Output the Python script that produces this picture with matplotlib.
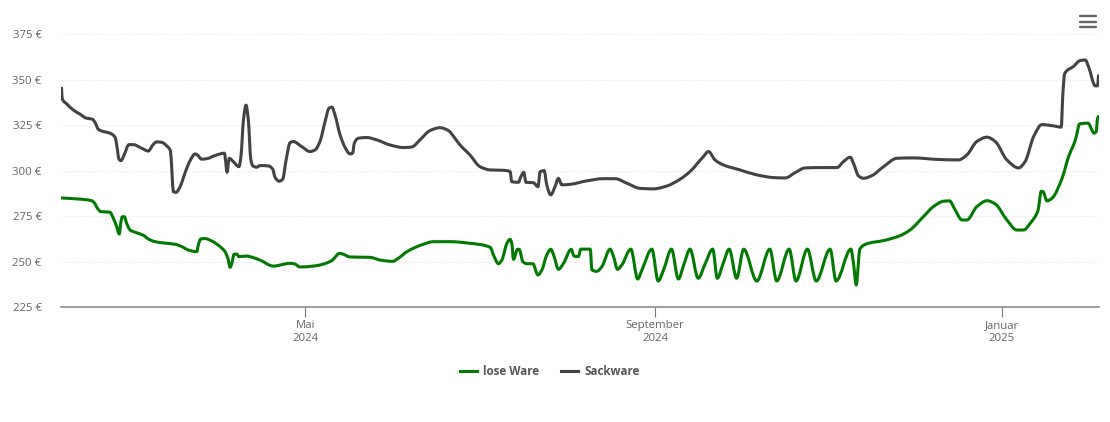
import numpy as np
import pandas as pd
import matplotlib
matplotlib.use('Agg')
import matplotlib.pyplot as plt
from matplotlib.path import Path
from matplotlib.patches import PathPatch
from matplotlib.lines import Line2D

# ==========================================
# 1. DATA (days since start, EUR)
# ==========================================
START_DATE = pd.Timestamp('2024-02-05')

sack_days = [0.2, 0.4, 2.0, 4.3, 6.7, 9.0, 11.0, 12.0, 13.1, 14.3, 17.2, 19.0, 19.6, 20.4, 21.1, 22.2,
             23.9, 25.4, 28.4, 30.7, 32.5, 33.7, 35.4, 37.2, 38.5, 39.0, 39.5, 40.5, 41.9, 43.6, 45.4,
             47.2, 48.0, 49.5, 51.3, 54.2, 57.5, 58.0, 58.4, 59.2, 60.6, 62.6, 63.3, 64.2, 65.1, 65.9,
             66.8, 67.5, 68.9, 70.0, 73.0, 74.5, 75.3, 76.8, 78.0, 79.2, 80.6, 81.7, 84.7, 87.6, 89.4,
             91.1, 92.9, 94.3, 95.3, 96.4, 98.2, 99.9, 101.7, 102.6, 103.2, 104.6, 107.6, 111.1, 115.8,
             120.5, 123.4, 126.3, 129.8, 133.4, 136.3, 138.6, 140.4, 143.9, 147.4, 151.0, 155.6, 158.0,
             158.6, 160.9, 161.8, 162.8, 163.6, 166.2, 167.8, 168.6, 170.0, 170.9, 172.3, 173.8, 175.0,
             176.2, 179.1, 185.0, 190.8, 195.0, 199.1, 203.7, 208.4, 213.2, 217.8, 221.3, 226.0, 227.8,
             230.1, 233.1, 238.9, 244.8, 250.7, 254.8, 258.3, 261.8, 267.1, 273.0, 275.3, 277.7, 278.8,
             280.6, 282.3, 285.3, 289.4, 294.1, 299.9, 309.3, 315.8, 318.7, 322.2, 325.8, 328.7, 332.8,
             336.9, 339.2, 342.2, 345.1, 349.2, 351.9, 352.5, 353.1, 356.2, 358.6, 360.4, 361.5, 363.9,
             364.7, 365.0]
sack_price = [345.4, 339.9, 336.8, 333.5, 331.1, 328.9, 328.4, 326.5, 322.9, 321.9, 320.7, 318.5, 314.2,
              306.4, 305.6, 308.7, 314.4, 314.4, 312.4, 310.9, 314.6, 315.9, 315.7, 313.7, 310.9, 300.5,
              288.6, 288.2, 291.3, 298.7, 305.6, 309.3, 308.7, 306.4, 306.7, 308.4, 309.7, 304.2, 299.2,
              306.9, 305.1, 302.3, 307.8, 328.0, 336.1, 328.0, 306.0, 302.7, 302.0, 302.9, 302.7, 300.9,
              296.5, 294.3, 295.4, 306.0, 315.5, 316.1, 313.3, 310.6, 311.5, 316.1, 327.0, 334.4, 335.0,
              330.7, 319.7, 313.0, 309.3, 309.7, 315.2, 317.9, 318.3, 317.0, 314.2, 312.8, 313.1, 317.0,
              322.1, 323.7, 322.1, 317.9, 314.2, 308.7, 302.3, 300.5, 300.3, 299.6, 294.1, 293.7, 296.8,
              299.2, 293.7, 293.5, 291.3, 299.6, 300.1, 292.3, 286.8, 291.3, 295.9, 292.3, 292.6, 294.5,
              295.7, 295.7, 293.2, 290.4, 290.1, 291.7, 295.4, 299.6, 307.8, 310.6, 306.0, 303.2, 300.5,
              297.8, 296.3, 296.1, 299.0, 301.6, 301.8, 301.8, 305.1, 307.5, 304.2, 297.2, 295.9, 297.4,
              302.3, 306.9, 307.1, 306.2, 306.0, 308.7, 316.1, 318.5, 316.1, 306.0, 301.6, 305.1, 318.8,
              325.4, 324.7, 324.0, 342.6, 353.3, 357.3, 360.6, 360.9, 357.3, 346.7, 346.7, 352.2]

lose_days = [0.2, 5.5, 10.8, 11.7, 12.8, 14.0, 17.2, 18.4, 19.6, 20.5, 21.1, 21.6, 22.3, 23.1, 24.3, 26.0,
             29.0, 30.7, 33.1, 36.0, 40.1, 42.5, 44.8, 47.8, 48.3, 49.2, 50.7, 53.0, 55.7, 57.7, 58.7,
             59.5, 60.1, 60.9, 61.8, 62.6, 65.3, 67.7, 70.0, 74.7, 80.6, 82.3, 84.1, 88.8, 95.3, 96.4,
             97.9, 99.3, 101.7, 108.7, 112.3, 116.7, 118.7, 121.7, 127.5, 131.0, 136.9, 143.9, 151.0,
             152.4, 153.9, 155.1, 156.9, 158.0, 158.6, 159.2, 160.6, 161.2, 162.5, 163.9, 166.0, 167.8,
             169.2, 170.9, 172.3, 173.5, 175.0, 176.8, 179.5, 180.5, 182.0, 182.9, 186.2, 186.8, 188.5,
             190.3, 193.2, 194.4, 195.8, 197.3, 200.5, 202.9, 204.4, 207.9, 210.1, 212.0, 214.8, 217.2,
             219.2, 221.3, 224.2, 226.6, 229.3, 230.9, 232.9, 235.1, 237.7, 240.2, 244.8, 249.4, 251.8,
             256.2, 258.6, 262.6, 265.7, 270.6, 272.7, 277.9, 278.8, 279.8, 280.5, 281.0, 284.1, 289.4,
             295.2, 298.7, 303.4, 306.9, 310.5, 312.6, 314.6, 317.0, 318.7, 322.2, 325.8, 328.7, 332.8,
             336.3, 338.7, 341.0, 343.7, 344.9, 345.5, 346.9, 348.7, 352.2, 354.5, 356.9, 358.4, 361.3,
             363.5, 364.2, 364.7, 365.0]
lose_price = [285.1, 284.6, 283.6, 282.5, 279.5, 277.6, 277.3, 274.0, 269.3, 265.3, 272.1, 274.8, 274.8,
              271.2, 267.5, 266.3, 264.6, 262.6, 261.1, 260.4, 259.7, 258.4, 256.5, 255.6, 259.3, 262.6,
              262.8, 261.5, 258.7, 255.6, 252.0, 247.0, 249.2, 254.2, 254.3, 252.9, 253.2, 252.3, 251.0,
              247.7, 249.2, 248.8, 247.2, 247.7, 250.7, 252.5, 254.7, 254.2, 252.7, 252.5, 251.0, 250.3,
              252.0, 255.6, 259.7, 261.1, 261.1, 260.2, 258.0, 252.9, 249.0, 251.0, 260.2, 262.4, 260.2,
              251.4, 256.9, 256.9, 250.1, 249.0, 249.0, 242.8, 245.6, 253.8, 256.9, 252.9, 245.9, 249.2,
              256.9, 253.2, 252.9, 257.0, 257.0, 245.6, 244.8, 247.4, 257.0, 252.9, 245.9, 248.3, 257.0,
              240.6, 245.6, 257.0, 239.5, 245.6, 257.0, 240.6, 248.8, 257.0, 241.0, 248.8, 257.0, 241.0,
              248.8, 257.0, 241.0, 257.0, 239.5, 257.0, 239.5, 257.0, 239.5, 257.0, 239.5, 257.0, 239.5,
              257.0, 249.4, 237.3, 248.3, 256.9, 260.2, 261.7, 264.4, 267.5, 274.8, 280.3, 283.3, 283.5,
              278.5, 273.0, 273.0, 280.3, 283.6, 281.8, 273.0, 267.5, 267.5, 271.2, 278.1, 288.8, 288.6,
              283.5, 285.0, 295.9, 307.8, 317.0, 325.8, 326.2, 320.7, 321.5, 328.9, 329.8]

y_ticks = [225, 250, 275, 300, 325, 350, 375]
x_tick_dates = ['2024-05-01', '2024-09-01', '2025-01-01']
x_tick_labels = ['Mai\n2024', 'September\n2024', 'Januar\n2025']
series_names = ['lose Ware', 'Sackware']

# ==========================================
# 2. STYLE
# ==========================================
GREEN = '#007a00'
DARK = '#434343'
TEXT = '#666666'
W, H = 1110, 422
plt.rcParams['font.family'] = ['Open Sans', 'DejaVu Sans']


def smooth_path(x, y):
    """Spline through the points as bezier segments, like the original chart's line."""
    x = np.array(x)
    y = np.array(y)
    h = np.diff(x)
    d = np.diff(y) / h
    m = np.zeros(len(x))
    m[0] = d[0]
    m[-1] = d[-1]
    for i in range(1, len(x) - 1):
        if d[i - 1] * d[i] > 0:
            w1 = 2 * h[i] + h[i - 1]
            w2 = h[i] + 2 * h[i - 1]
            m[i] = (w1 + w2) / (w1 / d[i - 1] + w2 / d[i])
    verts = [(x[0], y[0])]
    codes = [Path.MOVETO]
    for i in range(len(h)):
        verts.append((x[i] + h[i] / 3, y[i] + m[i] * h[i] / 3))
        verts.append((x[i + 1] - h[i] / 3, y[i + 1] - m[i + 1] * h[i] / 3))
        verts.append((x[i + 1], y[i + 1]))
        codes += [Path.CURVE4] * 3
    return Path(verts, codes)


# ==========================================
# 3. PLOT
# ==========================================
fig = plt.figure(figsize=(W / 100, H / 100), dpi=100)
ax = fig.add_axes([61 / W, 1 - 307.4 / H, (1099 - 61) / W, (307.4 - 34.3) / H])

ax.add_patch(PathPatch(smooth_path(lose_days, lose_price), fill=False, edgecolor=GREEN, lw=2.2,
                       capstyle='round', joinstyle='round', zorder=3))
ax.add_patch(PathPatch(smooth_path(sack_days, sack_price), fill=False, edgecolor=DARK, lw=2.2,
                       capstyle='round', joinstyle='round', zorder=4))

ax.set_xlim(0, 365.2)
ax.set_ylim(225, 375)

ax.set_yticks(y_ticks)
ax.set_yticklabels([f'{v} €' for v in y_ticks], fontsize=8.2, color=TEXT)
ax.tick_params(axis='y', length=0, pad=14)
ax.grid(axis='y', color='#e6e6e6', lw=0.8, linestyle=(0, (1, 1.5)))
ax.set_axisbelow(True)

tick_pos = [(pd.Timestamp(d) - START_DATE).days for d in x_tick_dates]
ax.set_xticks(tick_pos)
ax.set_xticklabels(x_tick_labels, fontsize=8.2, color=TEXT, linespacing=1.25)
ax.tick_params(axis='x', length=7.5, width=0.8, color='#777777', pad=1.5)

for side in ['top', 'left', 'right']:
    ax.spines[side].set_visible(False)
ax.spines['bottom'].set_color('#808080')
ax.spines['bottom'].set_linewidth(1.1)

# legend
handles = [Line2D([], [], color=GREEN, lw=2.2), Line2D([], [], color=DARK, lw=2.2)]
fig.legend(handles, series_names, loc='center', bbox_to_anchor=(550 / W, 1 - 371.5 / H), ncol=2, frameon=False,
           handlelength=1.45, handletextpad=0.55, columnspacing=1.9,
           prop={'size': 8.4, 'weight': 'bold'}, labelcolor='#555555')

# menu icon
for py in [16, 21.5, 26.5]:
    fig.add_artist(Line2D([1080 / W, 1096 / W], [1 - py / H, 1 - py / H], color='#666666', lw=1.7,
                          solid_capstyle='round'))

fig.savefig('out.png', dpi=100)
